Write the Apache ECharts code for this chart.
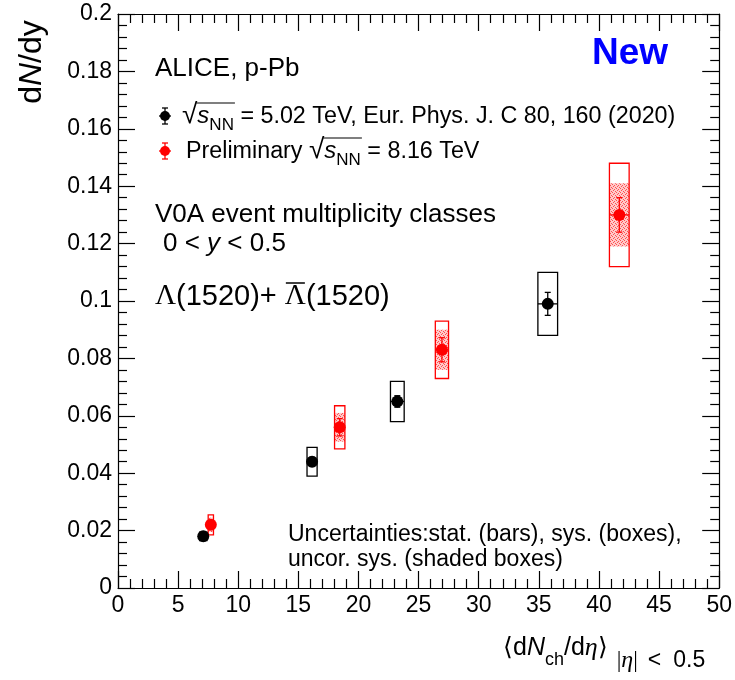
<!DOCTYPE html>
<html><head><meta charset="utf-8">
<script src="https://cdn.jsdelivr.net/npm/echarts@6/dist/echarts.min.js"></script>
<style>html,body{margin:0;padding:0;background:#fff}#c{width:735px;height:680px}</style>
</head><body><div id="c"></div>
<script>
// ---------------- data ----------------
const xTickValues = [0, 5, 10, 15, 20, 25, 30, 35, 40, 45, 50];
const yTickValues = [0, 0.02, 0.04, 0.06, 0.08, 0.1, 0.12, 0.14, 0.16, 0.18, 0.2];

// 5.02 TeV (published)
const blackX    = [7.09, 16.14, 23.23, 35.74];
const blackY    = [0.018, 0.044, 0.065, 0.099];
const blackStat = [0.001, 0.0015, 0.002, 0.004];
const blackSys  = [0.0015, 0.005, 0.007, 0.011];
const blackHalfW = [0.3, 0.42, 0.57, 0.82];

// 8.16 TeV (preliminary)
const redX     = [7.72, 18.44, 26.94, 41.69];
const redY     = [0.022, 0.056, 0.083, 0.130];
const redStat  = [0.0015, 0.003, 0.0042, 0.006];
const redSys   = [0.0035, 0.0075, 0.010, 0.018];
const redUncor = [0.0025, 0.005, 0.007, 0.011];
const redHalfW = [0.22, 0.43, 0.55, 0.82];

// ---------------- helpers ----------------
const SANS = '"Liberation Sans", Arial, Helvetica, sans-serif';
const SERIF = '"Liberation Serif", "Times New Roman", serif';
const meas = document.createElement('canvas').getContext('2d');

function run(x0, base, pieces, color) {
  const out = [];
  let x = x0;
  for (const p of pieces) {
    x += (p.gap || 0);
    const fam = p.serif ? SERIF : SANS;
    const font = (p.italic ? 'italic ' : '') + (p.bold ? 'bold ' : '') + p.size + 'px ' + fam;
    meas.font = font;
    const w = meas.measureText(p.t).width;
    const b = base + (p.dy || 0);
    out.push({
      type: 'text', x: x, y: b - 0.35 * p.size, z: 100,
      style: {
        text: p.t, fontSize: p.size, fontFamily: fam,
        fontStyle: p.italic ? 'italic' : 'normal', fontWeight: p.bold ? 'bold' : 'normal',
        fill: p.color || color || '#000', align: 'left', verticalAlign: 'middle'
      }
    });
    p.x0 = x; p.x1 = x + w;
    x += w;
  }
  return out;
}
function hline(x1, x2, y, color, w) {
  return {type: 'line', z: 100, shape: {x1: x1, y1: y, x2: x2, y2: y}, style: {stroke: color || '#000', lineWidth: w || 1.2}};
}

// pattern for shaded (uncorrelated) boxes
const pc = document.createElement('canvas');
pc.width = 4; pc.height = 4;
const pg = pc.getContext('2d');
pg.fillStyle = 'rgba(255,150,150,0.5)'; pg.fillRect(0, 0, 4, 4);
pg.fillStyle = 'rgba(255,0,0,0.6)';
pg.fillRect(0, 0, 1, 1); pg.fillRect(2, 1, 1, 1); pg.fillRect(1, 2, 1, 1); pg.fillRect(3, 3, 1, 1);

function boxSeries(xs, ys, hw, dy, style, z) {
  return {
    type: 'custom', z: z, silent: true,
    data: xs.map((x, i) => [x, ys[i], hw[i], dy[i]]),
    renderItem: (params, api) => {
      const x = api.value(0), y = api.value(1), w = api.value(2), d = api.value(3);
      const p1 = api.coord([x - w, y + d]), p2 = api.coord([x + w, y - d]);
      return {type: 'rect', shape: {x: p1[0], y: p1[1], width: p2[0] - p1[0], height: p2[1] - p1[1]}, style: style};
    }
  };
}
function barSeries(xs, ys, st, hw, color) {
  return {
    type: 'custom', z: 6, silent: true,
    data: xs.map((x, i) => [x, ys[i], st[i], hw[i]]),
    renderItem: (params, api) => {
      const x = api.value(0), y = api.value(1), s = api.value(2), w = api.value(3);
      const c = api.coord([x, y]), t = api.coord([x, y + s]), b = api.coord([x, y - s]);
      const l = api.coord([x - w, y]), r = api.coord([x + w, y]);
      const cap = 3, ls = {stroke: color, lineWidth: 1.3};
      return {type: 'group', children: [
        {type: 'line', shape: {x1: c[0], y1: t[1], x2: c[0], y2: b[1]}, style: ls},
        {type: 'line', shape: {x1: c[0] - cap, y1: t[1], x2: c[0] + cap, y2: t[1]}, style: ls},
        {type: 'line', shape: {x1: c[0] - cap, y1: b[1], x2: c[0] + cap, y2: b[1]}, style: ls},
        {type: 'line', shape: {x1: l[0], y1: c[1], x2: r[0], y2: c[1]}, style: ls}
      ]};
    }
  };
}

// ---------------- axes ----------------
const tickFont = {fontSize: 23, color: '#000', fontFamily: SANS};
function xAx(pos, labels) {
  return {
    type: 'value', min: 0, max: 50, interval: 5, position: pos,
    axisLine: {show: true, onZero: false, lineStyle: {color: '#000', width: 1.2}},
    axisTick: {show: true, inside: true, length: 17, lineStyle: {color: '#000', width: 1.2}},
    minorTick: {show: true, splitNumber: 5, length: 9, lineStyle: {color: '#000', width: 1.2}},
    splitLine: {show: false}, minorSplitLine: {show: false},
    axisLabel: labels ? Object.assign({show: true, margin: 6}, tickFont) : {show: false}
  };
}
function yAx(pos, labels) {
  return {
    type: 'value', min: 0, max: 0.2, interval: 0.02, position: pos,
    axisLine: {show: true, onZero: false, lineStyle: {color: '#000', width: 1.2}},
    axisTick: {show: true, inside: true, length: 17, lineStyle: {color: '#000', width: 1.2}},
    minorTick: {show: true, splitNumber: 5, length: 9, lineStyle: {color: '#000', width: 1.2}},
    splitLine: {show: false}, minorSplitLine: {show: false},
    axisLabel: labels ? Object.assign({show: true, margin: 6,
      formatter: v => String(+v.toFixed(3))}, tickFont) : {show: false}
  };
}

// ---------------- annotations ----------------
const g = [];
// y title
g.push({type: 'text', x: 32, y: 62, rotation: Math.PI / 2, z: 100,
  style: {text: 'd{n|N}/dy', fontSize: 32, fontFamily: SANS, fill: '#000', align: 'center', verticalAlign: 'middle',
    rich: {n: {fontSize: 32, fontFamily: SANS, fontStyle: 'italic'}}}});
// x title
g.push(...run(503, 657, [
  {t: '\u27E8', size: 25}, {t: 'd', size: 25}, {t: 'N', size: 25, italic: true},
  {t: 'ch', size: 18, dy: 9}, {t: '/d', size: 25}, {t: '\u03B7', size: 26, italic: true, serif: true},
  {t: '\u27E9', size: 25},
  {t: '|', size: 23, dy: 12, serif: true, gap: 9}, {t: '\u03B7', size: 24, dy: 12, italic: true, serif: true},
  {t: '|', size: 23, dy: 12, serif: true},
  {t: '<', size: 23, dy: 12, gap: 10}, {t: '0.5', size: 23, dy: 12, gap: 12}
]));
// ALICE
g.push(...run(155, 78, [{t: 'ALICE, p-Pb', size: 26}]));
// New
g.push(...run(592, 67, [{t: 'New', size: 37, bold: true, color: '#0000ff'}]));
// legend line 1
const l1 = [{t: '\u221A', size: 28}, {t: 's', size: 24, italic: true}, {t: 'NN', size: 17, dy: 6},
  {t: ' = 5.02 TeV, Eur. Phys. J. C 80, 160 (2020)', size: 23.3}];
g.push(...run(182, 125, l1));
g.push(hline(l1[1].x0 - 1, l1[2].x1 + 1, 125 - 22, '#000', 1.2));
// legend line 2
const l2 = [{t: 'Preliminary ', size: 23.3}, {t: '\u221A', size: 28}, {t: 's', size: 24, italic: true},
  {t: 'NN', size: 17, dy: 6}, {t: ' = 8.16 TeV', size: 23.3}];
g.push(...run(186, 160, l2));
g.push(hline(l2[2].x0 - 1, l2[3].x1 + 1, 160 - 22, '#000', 1.2));
// legend markers
function legMark(cx, cy, color) {
  const ls = {stroke: color, lineWidth: 1.3};
  return [
    {type: 'line', z: 100, shape: {x1: cx - 6, y1: cy, x2: cx + 6, y2: cy}, style: ls},
    {type: 'line', z: 100, shape: {x1: cx, y1: cy - 8, x2: cx, y2: cy + 8}, style: ls},
    {type: 'line', z: 100, shape: {x1: cx - 3, y1: cy - 8, x2: cx + 3, y2: cy - 8}, style: ls},
    {type: 'line', z: 100, shape: {x1: cx - 3, y1: cy + 8, x2: cx + 3, y2: cy + 8}, style: ls},
    {type: 'circle', z: 101, shape: {cx: cx, cy: cy, r: 5}, style: {fill: color}}
  ];
}
g.push(...legMark(165, 116, '#000'));
g.push(...legMark(165, 151, '#ff0000'));
// V0A
g.push(...run(155, 224, [{t: 'V0A event multiplicity classes', size: 26}]));
g.push(...run(163, 253, [{t: '0 < ', size: 26}, {t: 'y', size: 26, italic: true}, {t: ' < 0.5', size: 26}]));
// Lambda
const lam = [{t: '\u039B', size: 29, serif: true}, {t: '(1520)+ ', size: 29}, {t: '\u039B', size: 29, serif: true}, {t: '(1520)', size: 29}];
g.push(...run(155, 307, lam));
g.push(hline(lam[2].x0 + 1, lam[2].x1 - 1, 307 - 24, '#000', 1.5));
// uncertainties
g.push(...run(288, 543, [{t: 'Uncertainties:stat. (bars), sys. (boxes),', size: 23}]));
g.push(...run(288, 568, [{t: 'uncor. sys. (shaded boxes)', size: 23}]));

// ---------------- chart ----------------
const chart = echarts.init(document.getElementById('c'), null, {renderer: 'canvas'});
chart.setOption({
  animation: false,
  backgroundColor: '#fff',
  grid: {left: 118, right: 15, top: 14, bottom: 92, containLabel: false},
  xAxis: [xAx('bottom', true), xAx('top', false)],
  yAxis: [yAx('left', true), yAx('right', false)],
  series: [
    boxSeries(redX, redY, redHalfW, redUncor, {fill: {image: pc, repeat: 'repeat'}, stroke: null}, 2),
    boxSeries(redX, redY, redHalfW, redSys, {fill: 'none', stroke: '#ff0000', lineWidth: 1.3}, 3),
    boxSeries(blackX, blackY, blackHalfW, blackSys, {fill: 'none', stroke: '#000', lineWidth: 1.3}, 3),
    barSeries(blackX, blackY, blackStat, blackHalfW, '#000'),
    barSeries(redX, redY, redStat, redHalfW, '#ff0000'),
    {type: 'scatter', z: 8, symbol: 'circle', symbolSize: 12, silent: true,
     itemStyle: {color: '#000', opacity: 1}, data: blackX.map((x, i) => [x, blackY[i]])},
    {type: 'scatter', z: 8, symbol: 'circle', symbolSize: 12, silent: true,
     itemStyle: {color: '#ff0000', opacity: 1}, data: redX.map((x, i) => [x, redY[i]])}
  ],
  graphic: g
});
</script>
</body></html>
